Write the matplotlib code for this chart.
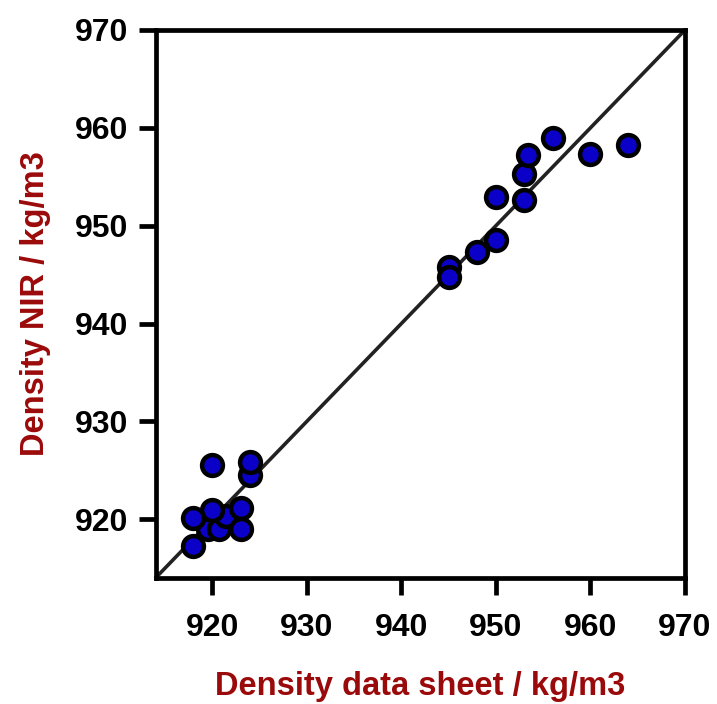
import matplotlib
matplotlib.use("Agg")
import matplotlib.pyplot as plt

# Data (density data sheet vs NIR prediction, kg/m3)
x_sheet = [919.5, 920.7, 921.5, 924.0, 924.0, 920.0, 923.0, 923.0, 920.0, 918.0, 918.0,
           945.0, 945.0, 948.0, 950.0, 950.0, 953.0, 953.0, 953.4, 956.0, 960.0, 964.0]
y_nir = [919.0, 919.0, 920.3, 924.5, 925.9, 925.5, 921.2, 919.0, 920.9, 920.1, 917.3,
         945.8, 944.8, 947.3, 948.5, 952.9, 952.6, 955.3, 957.2, 959.0, 957.3, 958.2]

ticks = [920, 930, 940, 950, 960, 970]
lim = (914, 970)

plt.rcParams['font.family'] = ['Liberation Sans', 'DejaVu Sans']

fig = plt.figure(figsize=(7.17, 7.04), dpi=100)
ax = fig.add_axes([0.2169, 0.179, 0.7385, 0.7784])

ax.plot(lim, lim, color='#222222', lw=2.6, zorder=1)
ax.plot(x_sheet, y_nir, 'o', ms=15.0, mfc='#0a00c8', mec='black', mew=3.2,
        zorder=3, clip_on=False)

ax.set_xlim(lim)
ax.set_ylim(lim)
ax.set_xticks(ticks)
ax.set_yticks(ticks)
ax.set_xticklabels([str(t) for t in ticks])
ax.set_yticklabels([str(t) for t in ticks])

for s in ax.spines.values():
    s.set_linewidth(3.4)
ax.tick_params(axis='both', direction='out', length=12.5, width=3.4,
               labelsize=23)
ax.tick_params(axis='x', pad=13)
ax.tick_params(axis='y', pad=7)
ax.tick_params(top=False, right=False)
for lab in ax.get_xticklabels() + ax.get_yticklabels():
    lab.set_fontweight('bold')

label_color = '#9b0a0a'
ax.set_xlabel('Density data sheet / kg/m3', fontsize=23.5, fontweight='bold',
              color=label_color, labelpad=20)
ax.set_ylabel('Density NIR / kg/m3', fontsize=23.5, fontweight='bold',
              color=label_color, labelpad=17)

fig.savefig('out.png', dpi=100)
